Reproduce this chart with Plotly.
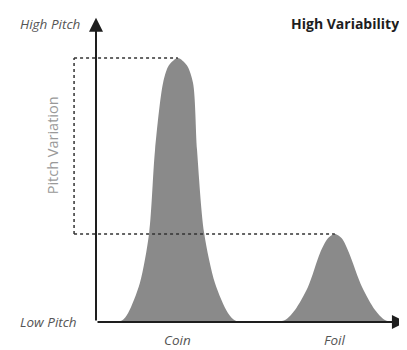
import plotly.graph_objects as go

# curve outlines (x: 0-100 along the axis, y: 0-100 pitch)
coin_x = [5, 8.4, 10.4, 14.2, 17.2, 19.1, 21.7, 23.6, 26.5, 29.4, 31.4, 32.7, 35.0, 38.5, 42.7, 45.0, 48]
coin_y = [0, 0.5, 3.1, 13.3, 30.3, 58.5, 81.3, 87.3, 89.8, 87.3, 81.3, 58.5, 30.3, 13.3, 3.1, 0.5, 0]

foil_x = [57, 61.2, 64.4, 68.6, 72.5, 75.0, 77.3, 79.6, 81.9, 86.1, 90.3, 93.5, 97]
foil_y = [0, 0.7, 4.1, 11.9, 23.5, 28.4, 29.9, 28.4, 23.5, 11.9, 4.1, 0.7, 0]

x_labels = ["Coin", "Foil"]
y_labels = ["Low Pitch", "High Pitch"]
y_title = "Pitch Variation"
title = "High Variability"

GREY = "#8a8a8a"
INK = "#1e1e1e"

fig = go.Figure()
for xs, ys in [(coin_x, coin_y), (foil_x, foil_y)]:
    fig.add_trace(go.Scatter(x=xs, y=ys, mode="lines", line=dict(width=0, shape="spline", smoothing=0.8),
                             fill="tozeroy", fillcolor=GREY, hoverinfo="skip"))

coin_peak = max(coin_y)
coin_px = coin_x[coin_y.index(coin_peak)]
foil_peak = max(foil_y)
foil_px = foil_x[foil_y.index(foil_peak)]
left = -7.1

dot = dict(color="#333", width=1.5, dash="dot")
fig.add_shape(type="line", x0=left, x1=left, y0=foil_peak, y1=coin_peak, line=dot)
fig.add_shape(type="line", x0=left, x1=coin_px, y0=coin_peak, y1=coin_peak, line=dot)
fig.add_shape(type="line", x0=left, x1=foil_px, y0=foil_peak, y1=foil_peak, line=dot)

# axes as arrows
arrow = dict(showarrow=True, arrowhead=2, arrowsize=1.4, arrowwidth=2, arrowcolor=INK,
             axref="x", ayref="y", text="")
fig.add_annotation(x=0, y=103.5, ax=0, ay=0, **arrow)
fig.add_annotation(x=100.3, y=0, ax=0, ay=0, **arrow)

ital = dict(family="Open Sans", size=13.5, color="#555")
fig.add_annotation(x=-5.5, y=0, text=f"<i>{y_labels[0]}</i>", showarrow=False, xanchor="right", font=ital)
fig.add_annotation(x=-4.5, y=101.5, text=f"<i>{y_labels[1]}</i>", showarrow=False, xanchor="right", font=ital)
fig.add_annotation(x=coin_px, y=-6.2, text=f"<i>{x_labels[0]}</i>", showarrow=False, font=ital)
fig.add_annotation(x=foil_px, y=-6.2, text=f"<i>{x_labels[1]}</i>", showarrow=False, font=ital)
fig.add_annotation(x=-14, y=60, text=y_title, showarrow=False, textangle=-90,
                   font=dict(family="Open Sans", size=14.5, color="#999"))
fig.add_annotation(x=62.5, y=101.5, text=f"<b>{title}</b>", showarrow=False, xanchor="left",
                   font=dict(family="Open Sans", size=14, color=INK))

fig.update_xaxes(range=[-28.48, 100.65], visible=False)
fig.update_yaxes(range=[-9.52, 106.8], visible=False)
fig.update_layout(width=399, height=342, margin=dict(l=0, r=0, t=0, b=0),
                  plot_bgcolor="white", paper_bgcolor="white", showlegend=False)
fig.write_html("out.html")
